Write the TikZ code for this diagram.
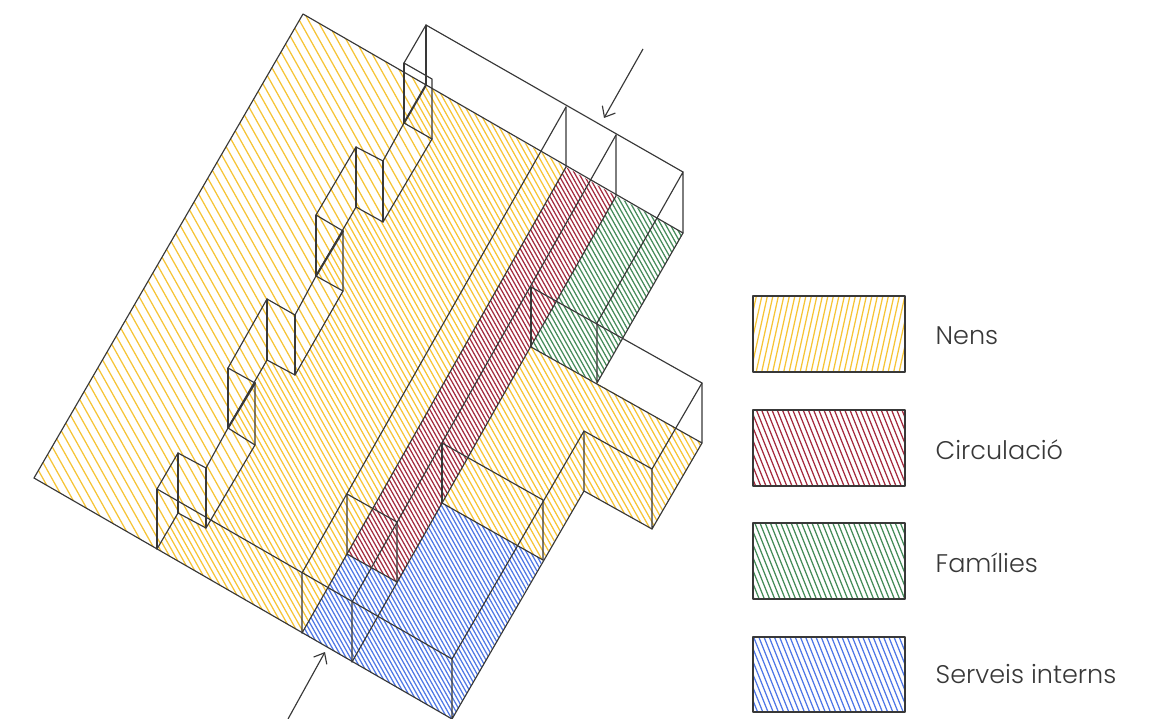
\documentclass[tikz,border=0pt]{standalone}
\usepackage{fontspec}
\setmainfont{Poppins Light}
\usetikzlibrary{arrows.meta}
\definecolor{ink}{HTML}{383838}
\definecolor{cyel}{HTML}{F6C436}
\definecolor{cred}{HTML}{A52C40}
\definecolor{cgrn}{HTML}{468C5A}
\definecolor{cblu}{HTML}{5078E6}
\newcommand{\hatchfill}[4]{%
  \begin{scope}
    \clip #1;
    \foreach \i in {0,...,480} {
      \pgfmathsetmacro{\xa}{-900+\i*#3}
      \pgfmathsetmacro{\xb}{\xa+#4*800}
      \draw[#2,line width=1.25pt] (\xa,0) -- (\xb,800);
    }
  \end{scope}}
\tikzset{
  edge/.style={ink,line width=1.15pt,line join=round,line cap=round},
  heavy/.style={ink,line width=2pt,line cap=round},
  pointer/.style={ink,line width=1.15pt,-{Straight Barb[length=9pt,width=15pt,line width=1.15pt]}},
  legendlabel/.style={anchor=base west,inner sep=0pt,text=ink,font=\fontsize{25.5}{30}\selectfont}
}
\begin{document}
\begin{tikzpicture}[x=1pt,y=-1pt]
\useasboundingbox (0,0) rectangle (1156,719);
% sheet
\coordinate (sT) at (303,14); \coordinate (sL) at (34,478);
% step profile, ground level
\coordinate (g0) at (426,85); \coordinate (g1) at (404,123); \coordinate (g2) at (432,139);
\coordinate (g3) at (383,222); \coordinate (g4) at (356,207); \coordinate (g5) at (316,276);
\coordinate (g6) at (343,291); \coordinate (g7) at (295,375); \coordinate (g8) at (267,360);
\coordinate (g9) at (228,428); \coordinate (g10) at (255,445); \coordinate (g11) at (206,528);
\coordinate (g12) at (178,513); \coordinate (g13) at (157,549);
% step profile, top level
\coordinate (t0) at (426,25); \coordinate (t1) at (404,63); \coordinate (t2) at (432,79);
\coordinate (t3) at (383,161); \coordinate (t4) at (356,147); \coordinate (t5) at (316,215);
\coordinate (t6) at (343,231); \coordinate (t7) at (295,315); \coordinate (t8) at (267,299);
\coordinate (t9) at (228,368); \coordinate (t10) at (255,383); \coordinate (t11) at (206,468);
\coordinate (t12) at (178,453); \coordinate (t13) at (157,489);
% band points
\coordinate (a) at (566,167); \coordinate (at) at (566,107);
\coordinate (b) at (616,196); \coordinate (bt) at (616,135);
\coordinate (c) at (683,233); \coordinate (ct) at (683,172);
\coordinate (m1) at (590,181); \coordinate (m2) at (657,218);
\coordinate (p) at (302,633); \coordinate (pt) at (302,573);
\coordinate (e) at (452,719); \coordinate (et) at (452,659);
\coordinate (f) at (352,662); \coordinate (ft) at (352,602);
\coordinate (h) at (347,554); \coordinate (ht) at (347,494);
\coordinate (i) at (397,582); \coordinate (it) at (397,522);
\coordinate (j) at (442,503); \coordinate (jt) at (442,443);
\coordinate (k) at (531,347); \coordinate (kt) at (531,287);
\coordinate (l) at (597,383); \coordinate (lt) at (597,323);
\coordinate (o) at (702,443); \coordinate (ot) at (702,383);
\coordinate (q) at (652,529); \coordinate (qt) at (652,469);
\coordinate (r) at (584,491); \coordinate (rt) at (584,431);
\coordinate (s) at (543,560); \coordinate (st) at (543,500);
% fills
\hatchfill{(sT)--(g0)--(g1)--(g2)--(g3)--(g4)--(g5)--(g6)--(g7)--(g8)--(g9)--(g10)--(g11)--(g12)--(g13)--(sL)--cycle}{cyel}{9}{0.56}
\hatchfill{(g0)--(a)--(h)--(p)--(g13)--(g12)--(g11)--(g10)--(g9)--(g8)--(g7)--(g6)--(g5)--(g4)--(g3)--(g2)--(g1)--cycle}{cyel}{5.7}{0.56}
\hatchfill{(k)--(l)--(o)--(q)--(r)--(s)--(j)--cycle}{cyel}{5.7}{0.56}
\hatchfill{(a)--(b)--(i)--(h)--cycle}{cred}{4.2}{0.56}
\hatchfill{(b)--(c)--(l)--(k)--cycle}{cgrn}{4.6}{0.56}
\hatchfill{(p)--(e)--(s)--(j)--(i)--(h)--cycle}{cblu}{4.2}{0.56}
% outline
\draw[edge] (sL) -- (sT) -- (c);
\draw[edge] (sL) -- (e);
% steps
\draw[edge] (t13) -- (t12) -- (t11) -- (g9);
\draw[edge] (t9) -- (t8) -- (t7) -- (g5);
\draw[edge] (t5) -- (t4) -- (t3) -- (g1);
\draw[edge] (t1) -- (t0) -- (ct);
\draw[edge] (t13) -- (et);
\draw[edge] (g13) -- (g12) -- (g11) -- (g10) -- (g9) -- (g8) -- (g7) -- (g6) -- (g5) -- (g4) -- (g3) -- (g2) -- (g1);
\draw[edge] (t9) -- (t10) -- (g10);
\draw[edge] (t5) -- (t6) -- (g6);
\draw[edge] (t1) -- (t2) -- (g2);
\foreach \n in {13,12,11,9,8,7,5,4,3,1,0} \draw[edge] (t\n) -- (g\n);
\draw[heavy] (g1) -- (g0);
\draw[heavy] (g5) -- (t6);
\draw[heavy] (g9) -- (t10);
% long lines
\draw[edge] (at) -- (pt) -- (p);
\draw[edge] (at) -- (a) -- (h) -- (p);
\draw[edge] (bt) -- (b) -- (f);
\draw[edge] (bt) -- (m1) -- (ft) -- (f);
\draw[edge] (ct) -- (c) -- (l) -- (lt) -- (m2) -- (ct);
\draw[edge] (kt) -- (ot) -- (o) -- (k);
\draw[edge] (ot) -- (qt) -- (q) -- (o);
\draw[edge] (kt) -- (k);
\draw[edge] (qt) -- (rt) -- (r) -- (q);
\draw[edge] (rt) -- (et) -- (e) -- (r);
\draw[edge] (jt) -- (st) -- (s);
\draw[edge] (j) -- (s);
\draw[edge] (jt) -- (j);
\draw[edge] (ht) -- (h) -- (i) -- (it) -- (ht);
% arrows
\coordinate (a1s) at (643,49); \coordinate (a1e) at (604,118);
\coordinate (a2s) at (288,719); \coordinate (a2e) at (325,652);
\draw[pointer] (a1s) -- (a1e);
\draw[pointer] (a2s) -- (a2e);
% legend
\foreach \nm/\ya/\yb/\col/\sp/\sl in {ny/296/372/cyel/5.5/-0.22, nr/410/486/cred/5.2/0.4, ng/523/599/cgrn/5.2/0.4, nb/637/712/cblu/5.2/0.4} {
  \hatchfill{(753,\ya) rectangle (905,\yb)}{\col}{\sp}{\sl}
  \draw[edge] (753,\ya) rectangle (905,\yb);
}
\node[legendlabel] (lNens) at (935.5,344) {Nens};
\node[legendlabel] (lCirc) at (935.5,459) {Circulació};
\node[legendlabel] (lFam) at (935.5,572) {Famílies};
\node[legendlabel] (lServ) at (935.5,683) {Serveis interns};
\end{tikzpicture}
\end{document}
